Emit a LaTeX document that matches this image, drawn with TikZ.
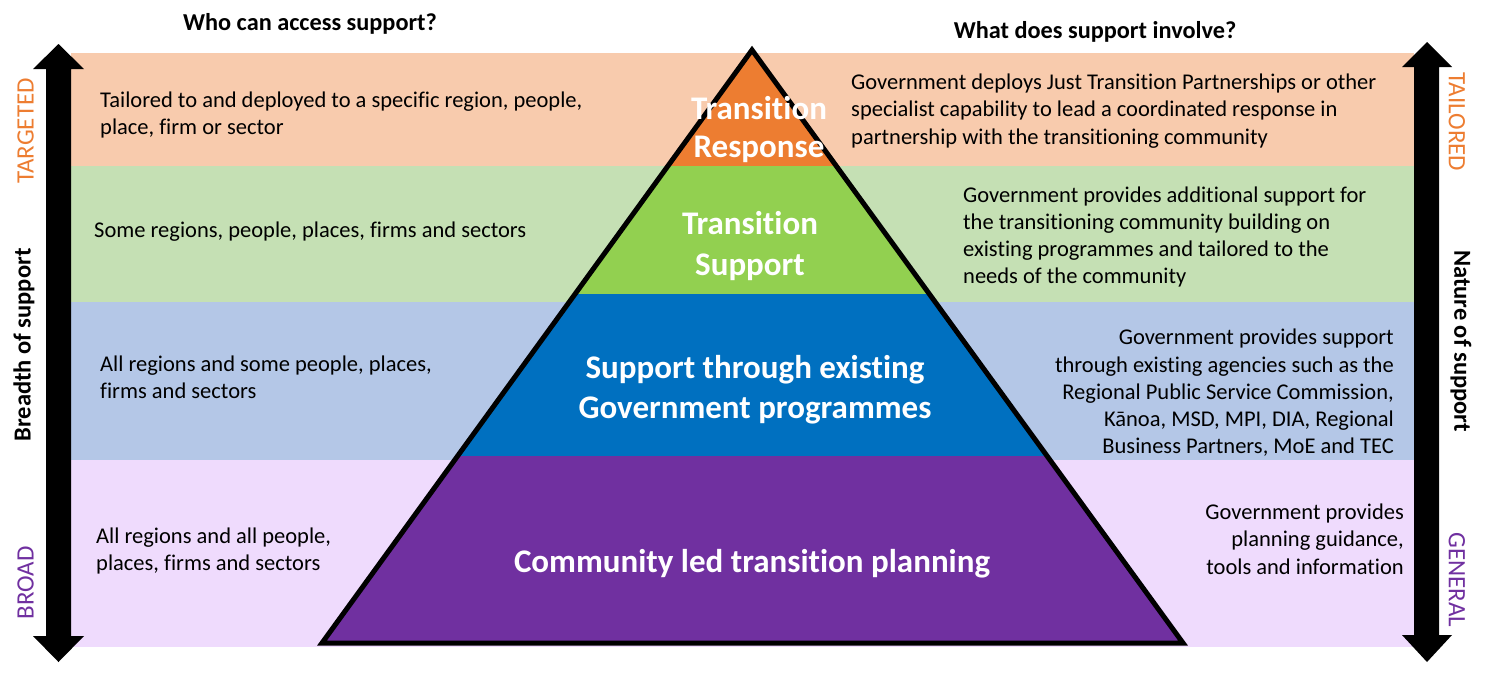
\documentclass[tikz,border=0pt]{standalone}
\usepackage{fontspec}
\setmainfont{Carlito}[Ligatures={NoCommon}]
\usetikzlibrary{calc}
\definecolor{bandA}{HTML}{F8CBAD}
\definecolor{bandB}{HTML}{C5E0B4}
\definecolor{bandC}{HTML}{B4C7E7}
\definecolor{bandD}{HTML}{EFDBFD}
\definecolor{pyrA}{HTML}{ED7D31}
\definecolor{pyrB}{HTML}{92D050}
\definecolor{pyrC}{HTML}{0070C0}
\definecolor{pyrD}{HTML}{7030A0}
\tikzset{
  body/.style={inner sep=0pt, font=\fontsize{22.5}{27.3}\selectfont, text=black},
  head/.style={inner sep=0pt, font=\fontsize{24.3}{28}\selectfont\bfseries},
  pyr/.style={inner sep=0pt, align=center, text=white, font=\fontsize{33}{40}\selectfont\bfseries},
  side/.style={inner sep=0pt, font=\fontsize{25}{28}\selectfont},
  axis/.style={inner sep=0pt, font=\fontsize{24.5}{28}\selectfont\bfseries},
}
\begin{document}
\begin{tikzpicture}[x=1pt,y=-1pt]
\useasboundingbox (0,0) rectangle (1486,673);
% bands
\fill[bandA] (71,53) rectangle (1414,166);
\fill[bandB] (71,166) rectangle (1414,302);
\fill[bandC] (71,302) rectangle (1414,460);
\fill[bandD] (71,460) rectangle (1414,647);
% arrows
\fill[black] (58.5,44) -- (84,69) -- (71,69) -- (71,636) -- (84,636) -- (58.5,662) -- (33,636) -- (46,636) -- (46,69) -- (33,69) -- cycle;
\fill[black] (1427,42) -- (1452,67) -- (1439,67) -- (1439,635) -- (1452,635) -- (1427,662) -- (1402,635) -- (1414,635) -- (1414,67) -- (1402,67) -- cycle;
% pyramid
\coordinate (apex) at (752,50);
\coordinate (bl) at (322,643);
\coordinate (br) at (1183,643);
\begin{scope}
\clip (apex) -- (bl) -- (br) -- cycle;
\fill[pyrA] (300,40) rectangle (1200,166);
\fill[pyrB] (300,166) rectangle (1200,294);
\fill[pyrC] (300,294) rectangle (1200,456);
\fill[pyrD] (300,456) rectangle (1200,650);
\end{scope}
\draw[line width=5pt, line join=miter, miter limit=20] (apex) -- (bl) -- (br) -- cycle;
% headings
\node[head] (hl) at (310,24) {Who can access support?};
\node[head] (hr) at (1095,32) {What does support involve?};
% pyramid labels
\node[pyr, font=\fontsize{33}{38}\selectfont\bfseries] (p1) at (759,130) {Transition\\Response};
\node[pyr, font=\fontsize{33}{41}\selectfont\bfseries] (p2) at (750,246) {Transition\\Support};
\node[pyr] (p3) at (755,390) {Support through existing\\Government programmes};
\node[pyr] (p4) at (752,564) {Community led transition planning};
% left texts
\node[body, anchor=west, align=left] (l1) at (100,115) {Tailored to and deployed to a specific region, people,\\place, firm or sector};
\node[body, anchor=west, align=left] (l2) at (94,232) {Some regions, people, places, firms and sectors};
\node[body, anchor=west, align=left] (l3) at (100,377) {All regions and some people, places,\\firms and sectors};
\node[body, anchor=west, align=left] (l4) at (96,551) {All regions and all people,\\places, firms and sectors};
% right texts
\node[body, anchor=west, align=left] (r1) at (851,111) {Government deploys Just Transition Partnerships or other\\specialist capability to lead a coordinated response in\\partnership with the transitioning community};
\node[body, anchor=west, align=left] (r2) at (963,237) {Government provides additional support for\\the transitioning community building on\\existing programmes and tailored to the\\needs of the community};
\node[body, anchor=east, align=right] (r3) at (1394,393) {Government provides support\\through existing agencies such as the\\Regional Public Service Commission,\\Kānoa, MSD, MPI, DIA, Regional\\Business Partners, MoE and TEC};
\node[body, anchor=east, align=right] (r4) at (1404,539) {Government provides\\planning guidance,\\tools and information};
% side labels
\node[side, text=pyrA, rotate=90] (tg) at (25.5,131) {TARGETED};
\node[side, text=pyrD, rotate=90] (br2) at (25.5,583) {BROAD};
\node[axis, rotate=90] (bs) at (24,345) {Breadth of support};
\node[side, text=pyrA, rotate=-90] (tl) at (1457,122) {TAILORED};
\node[side, text=pyrD, rotate=-90] (gn) at (1457,580) {GENERAL};
\node[axis, rotate=-90] (ns) at (1461,341) {Nature of support};
\end{tikzpicture}
\end{document}
